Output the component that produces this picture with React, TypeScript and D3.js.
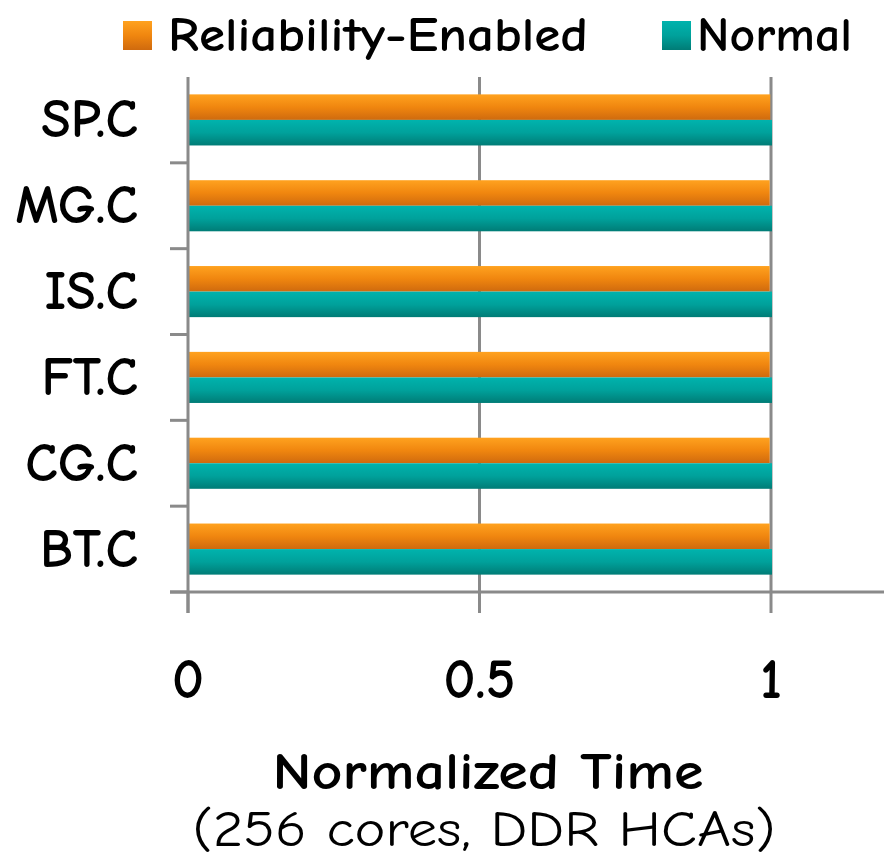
import React from "react";
import * as d3 from "d3";

const categories = ["SP.C", "MG.C", "IS.C", "FT.C", "CG.C", "BT.C"];
const seriesNames = ["Reliability-Enabled", "Normal"];
const reliabilityValues = [0.997, 0.996, 0.996, 0.996, 0.996, 0.996];
const normalValues = [1.0, 1.0, 1.0, 1.0, 1.0, 1.0];
const xTicks = [0, 0.5, 1];
const xTickLabels = ["0", "0.5", "1"];
const xTitle = "Normalized Time";
const xSubtitle = "(256 cores, DDR HCAs)";

const W = 884;
const H = 859;
const FONT = "'Comic Sans MS', 'Comic Neue', 'DejaVu Sans', sans-serif";
const AXIS = "#8a8a8a";

export default function App() {
  const x = d3.scaleLinear().domain([0, 1.2]).range([188, 188 + 1.2 * 583]);
  const y = d3.scaleBand<string>().domain(categories).range([77, 592]).padding(0);
  const inner = d3
    .scaleBand<string>()
    .domain(seriesNames)
    .range([0, y.step()])
    .paddingInner(0)
    .paddingOuter(0.68);

  const values: Record<string, number[]> = {
    "Reliability-Enabled": reliabilityValues,
    Normal: normalValues,
  };
  const fills: Record<string, string> = {
    "Reliability-Enabled": "url(#gOrange)",
    Normal: "url(#gTeal)",
  };

  const [y0, y1] = y.range();
  const boundaries = categories.map((c) => (y(c) as number) + y.step());

  return (
    <div style={{ position: "absolute", left: 0, top: 0 }}>
      <svg width={W} height={H} style={{ display: "block", background: "#fff" }}>
        <defs>
          <linearGradient id="gOrange" x1="0" y1="0" x2="0" y2="1">
            <stop offset="0" stopColor="#ffa21f" />
            <stop offset="0.5" stopColor="#f0860f" />
            <stop offset="1" stopColor="#cf6a0e" />
          </linearGradient>
          <linearGradient id="gTeal" x1="0" y1="0" x2="0" y2="1">
            <stop offset="0" stopColor="#00b3ad" />
            <stop offset="0.5" stopColor="#00a19b" />
            <stop offset="1" stopColor="#007c76" />
          </linearGradient>
        </defs>

        {/* vertical gridlines */}
        {xTicks
          .filter((t) => t > 0)
          .map((t) => (
            <line key={"g" + t} x1={x(t)} x2={x(t)} y1={y0} y2={y1} stroke={AXIS} strokeWidth={3} />
          ))}

        {/* bars */}
        {categories.map((c, i) =>
          seriesNames.map((s) => (
            <rect
              key={c + s}
              x={x(0) + 1}
              y={(y(c) as number) + (inner(s) as number)}
              width={x(values[s][i]) - x(0)}
              height={inner.bandwidth()}
              fill={fills[s]}
            />
          ))
        )}

        {/* y axis */}
        <line x1={x(0)} x2={x(0)} y1={y0} y2={y1 + 21} stroke={AXIS} strokeWidth={3} />
        {boundaries.map((b, i) => (
          <line key={"yt" + i} x1={170} x2={x(0)} y1={b} y2={b} stroke={AXIS} strokeWidth={3} />
        ))}
        {categories.map((c) => (
          <text
            key={"yl" + c}
            x={138}
            y={(y(c) as number) + y.step() / 2 - 2}
            dy="0.36em"
            textAnchor="end"
            fontFamily={FONT}
            fontWeight="bold"
            fontSize={54}
            fill="#000"
          >
            {c}
          </text>
        ))}

        {/* x axis */}
        <line x1={170} x2={W} y1={y1} y2={y1} stroke={AXIS} strokeWidth={3} />
        {xTicks.map((t) => (
          <line key={"xt" + t} x1={x(t)} x2={x(t)} y1={y1} y2={y1 + 21} stroke={AXIS} strokeWidth={3} />
        ))}
        {xTicks.map((t, i) => (
          <text
            key={"xl" + t}
            x={x(t)}
            y={698}
            textAnchor="middle"
            fontFamily={FONT}
            fontWeight="bold"
            fontSize={56}
            fill="#000"
          >
            {xTickLabels[i]}
          </text>
        ))}

        {/* axis title */}
        <text
          x={488}
          y={789}
          textAnchor="middle"
          fontFamily={FONT}
          fontWeight="bold"
          fontSize={52}
          textLength={431}
          lengthAdjust="spacingAndGlyphs"
          fill="#000"
        >
          {xTitle}
        </text>
        <text
          x={484}
          y={846}
          textAnchor="middle"
          fontFamily={FONT}
          fontSize={50}
          textLength={583}
          lengthAdjust="spacingAndGlyphs"
          fill="#000"
        >
          {xSubtitle}
        </text>

        {/* legend */}
        <rect x={123} y={21} width={29} height={29} fill="url(#gOrange)" />
        <text
          x={168}
          y={51}
          fontFamily={FONT}
          fontWeight="bold"
          fontSize={48}
          textLength={420}
          lengthAdjust="spacingAndGlyphs"
          fill="#000"
        >
          {seriesNames[0]}
        </text>
        <rect x={662} y={21} width={29} height={29} fill="url(#gTeal)" />
        <text
          x={697}
          y={51}
          fontFamily={FONT}
          fontWeight="bold"
          fontSize={48}
          textLength={155}
          lengthAdjust="spacingAndGlyphs"
          fill="#000"
        >
          {seriesNames[1]}
        </text>
      </svg>
    </div>
  );
}
